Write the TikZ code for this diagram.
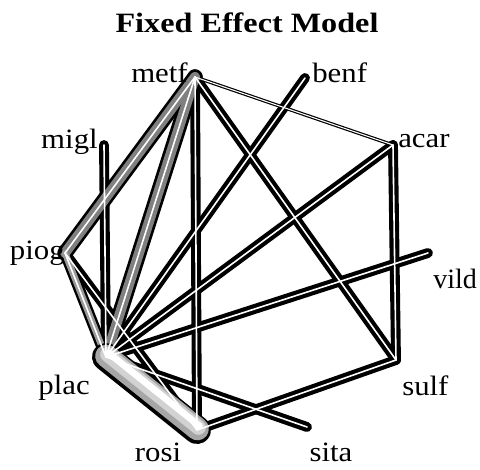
\documentclass[tikz,border=0pt]{standalone}
\usepackage{fontspec}
\setmainfont{Liberation Serif}
\usetikzlibrary{calc}
\tikzset{
  tubeline/.style={line width=7.4pt, line cap=round},
  tubecore/.style={line width=1.2pt, white, line cap=round},
  thinline/.style={line width=2.6pt, line cap=round},
  thincore/.style={line width=0.8pt, white, line cap=round},
  fatline/.style={line width=11.5pt, line cap=round, line join=round},
  fatfill/.style={line width=7.5pt, black!50, line cap=round, line join=round},
  lbl/.style={font=\fontsize{21}{24}\selectfont, inner sep=0pt, xscale=1.1},
}
\begin{document}
\begin{tikzpicture}[x=0.75pt,y=0.75pt,yscale=-1,xscale=1]
\useasboundingbox (0,0) rectangle (480,470);
% treatments round the circle
\coordinate (metf) at (195,77);
\coordinate (benf) at (305,78);
\coordinate (acar) at (393,145);
\coordinate (vild) at (428,253);
\coordinate (sulf) at (396,360);
\coordinate (sita) at (307,427);
\coordinate (rosi) at (197,430);
\coordinate (plac) at (106,357);
\coordinate (piog) at (65,253);
\coordinate (migl) at (104,145);
% dark outlines
\draw [thinline] (metf) -- (acar);
\draw [tubeline] (metf) -- (rosi);
\draw [tubeline] (metf) -- (sulf);
\draw [tubeline] (benf) -- (plac);
\draw [tubeline] (acar) -- (plac);
\draw [tubeline] (acar) -- (sulf);
\draw [tubeline] (vild) -- (plac);
\draw [tubeline] (sulf) -- (rosi);
\draw [tubeline] (sita) -- (plac);
\draw [tubeline] (migl) -- (plac);
\draw [tubeline] (piog) -- (rosi);
\draw [fatline] (metf) -- (piog);
\draw [fatline] (metf) -- (plac);
\draw [fatline, line width=8.5pt] (piog) -- (plac);
% grey fill of the wide tubes
\draw [fatfill] (metf) -- (piog);
\draw [fatfill] (metf) -- (plac);
\draw [fatfill, line width=5pt, black!40] (piog) -- (plac);
% placebo - rosi
\draw [line width=21pt, line cap=round] (plac) -- (rosi);
\draw [line width=17pt, gray!70, line cap=round] ($(plac)+(0.5,-1)$) -- ($(rosi)+(0.5,-1)$);
\draw [line width=11pt, gray!35, line cap=round] ($(plac)+(1.5,-2.5)$) -- ($(rosi)+(1.5,-2.5)$);
\draw [line width=5pt, white, line cap=round] ($(plac)+(2.5,-4)$) -- ($(rosi)+(2.5,-4)$);
% highlights
\draw [thincore] (metf) -- (acar);
\draw [tubecore] (metf) -- (rosi);
\draw [tubecore] (metf) -- (sulf);
\draw [tubecore] (benf) -- (plac);
\draw [tubecore] (acar) -- (plac);
\draw [tubecore] (acar) -- (sulf);
\draw [tubecore] (vild) -- (plac);
\draw [tubecore] (sulf) -- (rosi);
\draw [tubecore] (sita) -- (plac);
\draw [tubecore] (migl) -- (plac);
\draw [tubecore] (piog) -- (rosi);
\draw [tubecore] (metf) -- (piog) -- (plac);
\draw [tubecore] (metf) -- (plac);
% labels
\node [font=\fontsize{21}{24}\selectfont\bfseries, inner sep=0pt, xscale=1.15, anchor=base] (title) at (247,33) {Fixed Effect Model};
\node [lbl, anchor=base east] (lmetf) at (188,83) {metf};
\node [lbl, anchor=base west] (lbenf) at (312,83) {benf};
\node [lbl, anchor=base west] (lacar) at (398,148) {acar};
\node [lbl, anchor=base west, xscale=0.91] (lvild) at (433,289) {vild};
\node [lbl, anchor=base west] (lsulf) at (402,396) {sulf};
\node [lbl, anchor=base] (lsita) at (331,462) {sita};
\node [lbl, anchor=base] (lrosi) at (158,462) {rosi};
\node [lbl, anchor=base east] (lplac) at (90,395) {plac};
\node [lbl, anchor=base east] (lpiog) at (65,260) {piog};
\node [lbl, anchor=base east] (lmigl) at (98,149) {migl};
\end{tikzpicture}
\end{document}
